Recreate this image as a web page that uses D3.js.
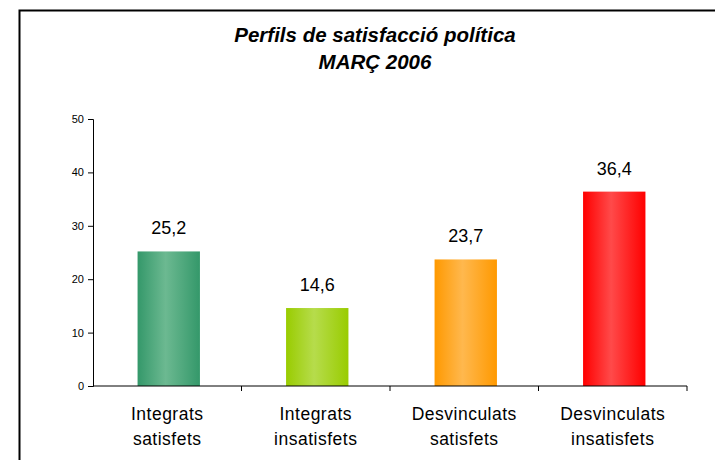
<!DOCTYPE html>
<html>
<head>
<meta charset="utf-8">
<script src="https://cdn.jsdelivr.net/npm/d3@7"></script>
<style>
  body { margin: 0; background: #fff; }
  svg text { font-family: "Liberation Sans", Arial, sans-serif; fill: #000; }
</style>
</head>
<body>
<svg id="chart" width="715" height="460"></svg>
<script>

// data
var categories = [
    ["Integrats", "satisfets"],
    ["Integrats", "insatisfets"],
    ["Desvinculats", "satisfets"],
    ["Desvinculats", "insatisfets"]
];
var values = [25.2, 14.6, 23.7, 36.4];
var yTicks = [0, 10, 20, 30, 40, 50];
var barColors = [
    { edge: "#34986a", mid: "#6cb991" },
    { edge: "#99cc00", mid: "#b6dc4c" },
    { edge: "#ff9900", mid: "#ffb84e" },
    { edge: "#ff0000", mid: "#ff4a4a" }
];

var svg = d3.select("#chart");

// outer frame (runs off the right and bottom edges)
svg.append("rect")
    .attr("x", 19.5).attr("y", 10.5)
    .attr("width", 760).attr("height", 520)
    .attr("fill", "none")
    .attr("stroke", "#000")
    .attr("stroke-width", 2);

// title
var title = svg.append("text")
    .attr("text-anchor", "middle")
    .attr("font-weight", "bold")
    .attr("font-style", "italic")
    .attr("font-size", 20.5);
title.append("tspan").attr("x", 375).attr("y", 42).text("Perfils de satisfacció política");
title.append("tspan").attr("x", 375).attr("y", 69).text("MARÇ 2006");

// scales
var plotLeft = 93, plotRight = 687;
var x = d3.scaleBand()
    .domain(d3.range(categories.length))
    .range([plotLeft, plotRight]);
var y = d3.scaleLinear()
    .domain([0, 50])
    .range([386, 119]);

// gradients
var defs = svg.append("defs");
barColors.forEach(function(c, i) {
    var g = defs.append("linearGradient")
        .attr("id", "grad" + i)
        .attr("x1", "0%").attr("x2", "100%")
        .attr("y1", "0%").attr("y2", "0%");
    g.append("stop").attr("offset", "0%").attr("stop-color", c.edge);
    g.append("stop").attr("offset", "45%").attr("stop-color", c.mid);
    g.append("stop").attr("offset", "100%").attr("stop-color", c.edge);
});

// bars
var barW = x.bandwidth() * 0.42;
svg.append("g").selectAll("rect")
    .data(values)
    .enter()
    .append("rect")
        .attr("x", function(d, i) { return x(i) + x.bandwidth() / 2 - barW / 2 + 1.5; })
        .attr("y", function(d) { return y(d); })
        .attr("width", barW)
        .attr("height", function(d) { return y(0) - y(d); })
        .attr("fill", function(d, i) { return "url(#grad" + i + ")"; });

// value labels
svg.append("g").selectAll("text")
    .data(values)
    .enter()
    .append("text")
        .attr("x", function(d, i) { return x(i) + x.bandwidth() / 2 + 1.5; })
        .attr("y", function(d) { return y(d) - 17; })
        .attr("text-anchor", "middle")
        .attr("font-size", 18)
        .text(function(d) { return String(d).replace(".", ","); });

// y axis
var yAxis = svg.append("g")
    .attr("transform", "translate(" + plotLeft + ",0)")
    .call(d3.axisLeft(y).tickValues(yTicks).tickSize(5).tickPadding(4));
yAxis.selectAll("text").attr("font-size", 11).attr("font-family", null);
yAxis.selectAll("line, path").attr("stroke", "#000");

// x axis (ticks between categories)
var xAxisG = svg.append("g");
xAxisG.append("line")
    .attr("x1", plotLeft).attr("x2", plotRight)
    .attr("y1", y(0)).attr("y2", y(0))
    .attr("stroke", "#000");
xAxisG.selectAll(".tick")
    .data(d3.range(categories.length))
    .enter()
    .append("line")
        .attr("x1", function(i) { return x(i) + x.bandwidth(); })
        .attr("x2", function(i) { return x(i) + x.bandwidth(); })
        .attr("y1", y(0)).attr("y2", y(0) + 5)
        .attr("stroke", "#000");

// category labels
xAxisG.selectAll(".cat")
    .data(categories)
    .enter()
    .append("text")
        .attr("text-anchor", "middle")
        .attr("font-size", 17.5)
        .attr("letter-spacing", 0.5)
        .each(function(d, i) {
            var t = d3.select(this);
            d.forEach(function(line, j) {
                t.append("tspan")
                    .attr("x", x(i) + x.bandwidth() / 2)
                    .attr("y", 420 + j * 25)
                    .text(line);
            });
        });

</script>
</body>
</html>
